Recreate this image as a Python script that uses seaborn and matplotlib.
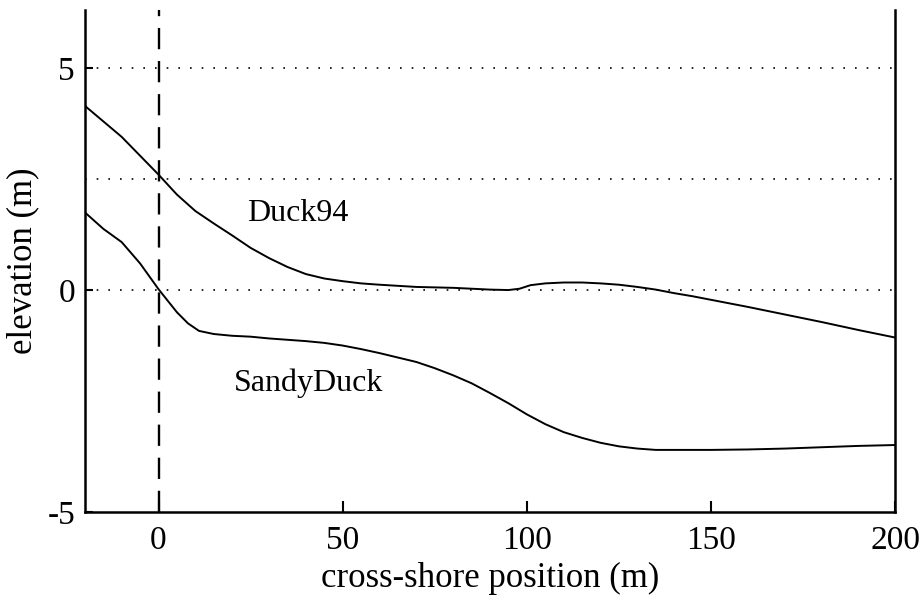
import matplotlib
matplotlib.use("Agg")
import matplotlib.pyplot as plt
import seaborn as sns
import pandas as pd

# Cross-shore profiles
duck94_x = [-20, -10, 0, 5, 10, 15, 20, 25, 30, 35, 40, 45, 50, 55, 60, 70, 80, 90, 95, 98,
            101, 105, 110, 115, 120, 125, 130, 135, 140, 145, 150, 160, 170, 180, 190, 200]
duck94_z = [4.15, 3.45, 2.6, 2.15, 1.78, 1.5, 1.23, 0.95, 0.72, 0.52, 0.36, 0.26, 0.2, 0.15, 0.12, 0.07, 0.05, 0.01, 0.0, 0.03,
            0.11, 0.15, 0.17, 0.17, 0.15, 0.12, 0.07, 0.01, -0.07, -0.14, -0.22, -0.38, -0.55, -0.72, -0.9, -1.07]

sandy_x = [-20, -15, -10, -5, 0, 5, 8, 11, 15, 20, 25, 30, 35, 40, 45, 50, 55, 60, 65, 70, 75, 80, 85, 90,
           95, 100, 105, 110, 115, 120, 125, 130, 135, 140, 150, 160, 170, 180, 190, 200]
sandy_z = [1.75, 1.38, 1.08, 0.6, 0.02, -0.5, -0.75, -0.92, -0.99, -1.03, -1.05, -1.09, -1.12, -1.15, -1.19, -1.25, -1.33,
           -1.42, -1.52, -1.62, -1.76, -1.92, -2.1, -2.32, -2.55, -2.8, -3.02, -3.2, -3.33, -3.44, -3.52, -3.57, -3.6,
           -3.6, -3.6, -3.59, -3.57, -3.54, -3.51, -3.49]

grid_levels = [0, 2.5, 5]

df = pd.concat([
    pd.DataFrame({"x": duck94_x, "z": duck94_z, "profile": "Duck94"}),
    pd.DataFrame({"x": sandy_x, "z": sandy_z, "profile": "SandyDuck"}),
])

sns.set_style("ticks")
plt.rcParams["font.family"] = ["Liberation Serif", "DejaVu Serif"]
plt.rcParams["axes.unicode_minus"] = False
# plain black like the scanned original
for key in ["text.color", "axes.labelcolor", "xtick.color", "ytick.color", "axes.edgecolor"]:
    plt.rcParams[key] = "black"

fig = plt.figure(figsize=(9.22, 6.06), dpi=100)
ax = fig.add_axes([0.092, 0.155, 0.879, 0.828])

for lev in grid_levels:
    ax.axhline(lev, color="black", linestyle=(0, (1, 6)), linewidth=1.2, zorder=1)
ax.axvline(0, color="black", linestyle=(0, (9, 5)), linewidth=1.7, zorder=1)

sns.lineplot(data=df, x="x", y="z", units="profile", estimator=None, color="black",
             linewidth=1.4, sort=False, ax=ax, legend=False)

ax.text(37.9, 1.73, "Duck94", fontsize=23, ha="center", va="center")
ax.text(40.6, -2.09, "SandyDuck", fontsize=23, ha="center", va="center")

ax.set_xlim(-20, 200)
ax.set_ylim(-5, 6.3)
ax.set_xticks([0, 50, 100, 150, 200])
ax.set_yticks([-5, 0, 5])
ax.tick_params(direction="in", length=8, width=1.5, labelsize=24)
ax.tick_params(axis="x", pad=10)
ax.tick_params(axis="y", length=6, pad=7)

ax.spines["top"].set_visible(False)
for s in ["left", "bottom", "right"]:
    ax.spines[s].set_linewidth(1.8)

ax.set_xlabel("cross-shore position (m)", fontsize=25, labelpad=4)
ax.set_ylabel("elevation (m)", fontsize=25, labelpad=6)

fig.savefig("out.png", dpi=100)
